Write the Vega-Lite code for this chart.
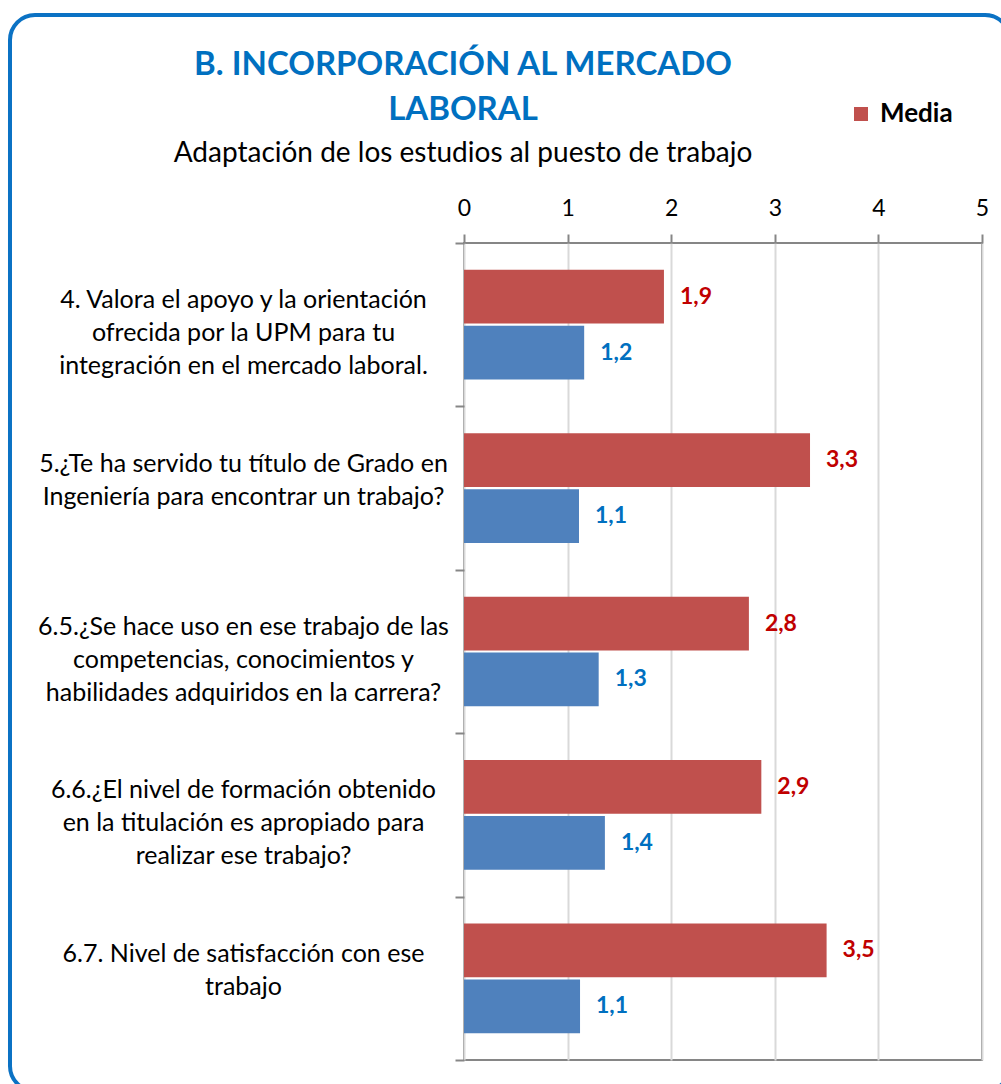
{
  "$schema": "https://vega.github.io/schema/vega-lite/v6.json",
  "autosize": {"type": "none"},
  "width": 518,
  "height": 817,
  "padding": {"left": 464, "top": 243, "right": 19, "bottom": 24},
  "background": "white",
  "title": {
    "text": ["B. INCORPORACIÓN AL MERCADO", "LABORAL"],
    "subtitle": "Adaptación de los estudios al puesto de trabajo",
    "anchor": "middle",
    "frame": "group",
    "dx": -260,
    "offset": -155,
    "font": "Lato",
    "fontSize": 33,
    "fontWeight": "bold",
    "color": "#0070C0",
    "lineHeight": 45,
    "subtitleFont": "Lato",
    "subtitleFontSize": 28,
    "subtitleColor": "#000000",
    "subtitlePadding": 13
  },
  "data": {
    "values": [
      {"pregunta": "4. Valora el apoyo y la orientación\nofrecida por la UPM para tu\nintegración en el mercado laboral.", "serie": "Media", "valor": 1.93},
      {"pregunta": "4. Valora el apoyo y la orientación\nofrecida por la UPM para tu\nintegración en el mercado laboral.", "serie": "Desviación típica", "valor": 1.16},
      {"pregunta": "5.¿Te ha servido tu título de Grado en\nIngeniería para encontrar un trabajo?", "serie": "Media", "valor": 3.34},
      {"pregunta": "5.¿Te ha servido tu título de Grado en\nIngeniería para encontrar un trabajo?", "serie": "Desviación típica", "valor": 1.11},
      {"pregunta": "6.5.¿Se hace uso en ese trabajo de las\ncompetencias, conocimientos y\nhabilidades adquiridos en la carrera?", "serie": "Media", "valor": 2.75},
      {"pregunta": "6.5.¿Se hace uso en ese trabajo de las\ncompetencias, conocimientos y\nhabilidades adquiridos en la carrera?", "serie": "Desviación típica", "valor": 1.3},
      {"pregunta": "6.6.¿El nivel de formación obtenido\nen la titulación es apropiado para\nrealizar ese trabajo?", "serie": "Media", "valor": 2.87},
      {"pregunta": "6.6.¿El nivel de formación obtenido\nen la titulación es apropiado para\nrealizar ese trabajo?", "serie": "Desviación típica", "valor": 1.36},
      {"pregunta": "6.7. Nivel de satisfacción con ese\ntrabajo", "serie": "Media", "valor": 3.5},
      {"pregunta": "6.7. Nivel de satisfacción con ese\ntrabajo", "serie": "Desviación típica", "valor": 1.12}
    ]
  },
  "encoding": {
    "y": {
      "field": "pregunta",
      "type": "nominal",
      "sort": null,
      "scale": {"paddingInner": 0, "paddingOuter": 0},
      "axis": {
        "title": null,
        "domain": false,
        "grid": false,
        "ticks": true,
        "tickBand": "extent",
        "tickSize": 9,
        "tickColor": "#868686",
        "tickWidth": 2,
        "labelExpr": "split(datum.label, '\\n')",
        "labelAlign": "center",
        "labelBaseline": "middle",
        "labelFont": "Lato",
        "labelFontSize": 25,
        "labelLineHeight": 33,
        "labelColor": "#000000",
        "labelPadding": 212,
        "labelOffset": -25,
        "labelLimit": 800
      }
    },
    "yOffset": {
      "field": "serie",
      "type": "nominal",
      "sort": ["Media", "Desviación típica"],
      "scale": {"paddingInner": 0.04, "paddingOuter": 0.48}
    },
    "x": {
      "field": "valor",
      "type": "quantitative",
      "scale": {"domain": [0, 5], "nice": false},
      "axis": {
        "orient": "top",
        "title": null,
        "values": [0, 1, 2, 3, 4, 5],
        "format": "d",
        "domain": false,
        "grid": true,
        "gridColor": "#D9D9D9",
        "gridWidth": 2,
        "ticks": true,
        "tickSize": 9,
        "tickColor": "#868686",
        "tickWidth": 2,
        "labelFont": "Lato",
        "labelFontSize": 23,
        "labelColor": "#000000",
        "labelPadding": 14,
        "labelFlush": false
      }
    }
  },
  "layer": [
    {
      "mark": {"type": "bar"},
      "encoding": {
        "color": {
          "field": "serie",
          "type": "nominal",
          "scale": {"domain": ["Media", "Desviación típica"], "range": ["#C0504D", "#4F81BD"]},
          "legend": {
            "title": null,
            "values": ["Media"],
            "orient": "none",
            "legendX": 384,
            "legendY": -142,
            "symbolType": "square",
            "symbolSize": 196,
            "symbolStrokeWidth": 0,
            "labelFont": "Lato",
            "labelFontSize": 26,
            "labelFontWeight": "bold",
            "labelColor": "#000000",
            "labelOffset": 6
          }
        }
      }
    },
    {
      "mark": {"type": "text", "align": "left", "baseline": "middle", "dx": 16, "font": "Lato", "fontSize": 23, "fontWeight": "bold"},
      "encoding": {
        "text": {"field": "valor", "type": "quantitative", "format": ".1f"},
        "color": {"condition": {"test": "datum.serie === 'Media'", "value": "#C00000"}, "value": "#0070C0"},
        "opacity": {
          "field": "serie",
          "type": "nominal",
          "scale": {"range": [1, 1]},
          "legend": {
            "title": ".",
            "titleOpacity": 0,
            "titleFontSize": 10,
            "titlePadding": 70,
            "values": ["Media"],
            "labelExpr": "''",
            "labelOpacity": 0,
            "symbolOpacity": 0,
            "symbolFillColor": "transparent",
            "symbolStrokeColor": "transparent",
            "symbolSize": 0,
            "orient": "none",
            "legendX": -454,
            "legendY": -228,
            "padding": 493,
            "strokeColor": "#0B72C4",
            "cornerRadius": 25
          }
        }
      }
    }
  ],
  "config": {
    "view": {"stroke": "#868686", "strokeWidth": 2},
    "font": "Lato",
    "legend": {"strokeWidth": 4},
    "locale": {"number": {"decimal": ",", "thousands": ".", "grouping": [3], "currency": ["", " €"]}}
  }
}
